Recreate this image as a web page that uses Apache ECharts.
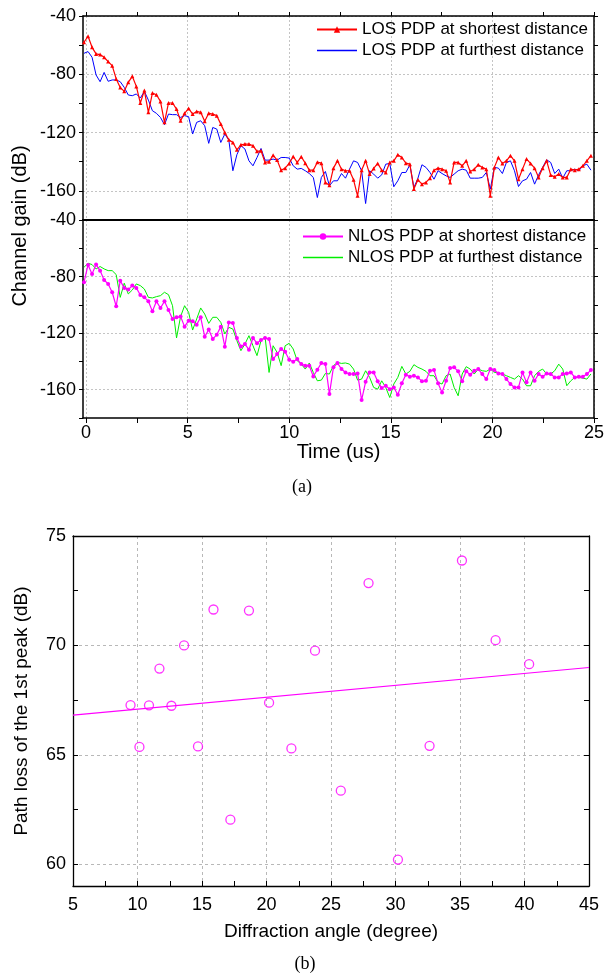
<!DOCTYPE html>
<html><head><meta charset="utf-8">
<script src="https://cdn.jsdelivr.net/npm/echarts@6/dist/echarts.min.js"></script>
<style>html,body{margin:0;padding:0;background:#fff}#c{width:605px;height:977px}</style>
</head><body><div id="c"></div>
<script>
// ---- sampling grid of the PDP (us) ----
const T0 = -0.1, DT = 0.198;

// ---- panel (a) top: LOS ----
const losShort = [
-58.0,-53.9,-61.5,-66.0,-66.5,-68.3,-71.3,-74.1,-83.2,-89.0,
-91.7,-85.5,-81.4,-88.3,-99.7,-91.2,-106.1,-92.9,-94.0,-98.6,
-113.0,-99.7,-99.7,-103.9,-111.9,-106.8,-103.4,-107.3,-105.5,-106.1,
-112.3,-106.8,-107.3,-108.4,-114.2,-119.9,-124.9,-126.8,-131.8,-128.4,
-127.9,-127.9,-129.0,-132.9,-132.5,-140.5,-140.0,-135.5,-138.9,-145.8,
-144.4,-141.2,-136.4,-140.5,-136.6,-141.0,-145.8,-145.8,-140.3,-141.0,
-154.2,-156.1,-144.4,-139.4,-145.1,-146.2,-146.2,-152.4,-163.4,-145.8,
-139.4,-148.5,-144.6,-141.2,-145.8,-147.4,-140.5,-139.4,-135.2,-137.1,
-141.0,-141.7,-158.8,-152.4,-155.4,-154.2,-151.3,-145.8,-144.4,-145.1,
-146.2,-154.2,-140.5,-140.5,-142.8,-139.4,-146.7,-145.1,-142.1,-143.9,
-145.1,-163.4,-143.9,-137.1,-141.2,-139.4,-135.9,-139.4,-152.0,-145.1,
-138.2,-141.2,-144.4,-150.8,-144.4,-139.4,-149.2,-150.4,-148.5,-150.8,
-150.8,-145.1,-145.8,-145.1,-142.8,-139.4,-135.9];
const losFar = [
-65.6,-64.4,-68.3,-80.5,-85.1,-78.7,-84.8,-83.9,-83.9,-85.1,
-89.0,-94.2,-94.7,-93.5,-96.3,-91.7,-97.7,-105.0,-106.8,-109.6,
-114.6,-107.3,-107.7,-107.7,-109.6,-108.4,-109.1,-121.0,-113.0,-111.9,
-115.3,-127.4,-116.5,-117.6,-126.8,-121.0,-125.2,-146.2,-135.2,-129.0,
-131.3,-139.4,-142.8,-137.1,-130.9,-138.9,-138.9,-138.2,-138.9,-137.1,
-137.1,-137.5,-142.8,-145.1,-144.6,-146.2,-148.1,-150.8,-164.6,-150.8,
-146.7,-156.5,-153.1,-153.1,-148.1,-151.3,-145.1,-139.4,-140.5,-146.2,
-168.7,-146.2,-148.5,-151.3,-149.0,-141.7,-141.2,-157.2,-153.1,-147.4,
-147.4,-142.1,-157.7,-151.3,-142.1,-143.9,-147.4,-152.0,-146.2,-148.1,
-149.7,-150.8,-148.5,-146.2,-145.1,-145.8,-151.3,-151.3,-151.3,-150.8,
-147.4,-158.8,-143.9,-144.4,-148.1,-140.5,-139.4,-146.2,-157.0,-153.1,
-152.0,-147.4,-155.4,-149.0,-143.9,-138.7,-140.5,-148.1,-145.1,-151.3,
-146.2,-146.2,-145.1,-146.2,-142.8,-141.7,-145.8];

// ---- panel (a) bottom: NLOS ----
const nlosShort = [
-84.0,-71.8,-78.1,-71.5,-75.8,-82.4,-85.2,-91.1,-101.0,-82.9,
-88.0,-89.2,-86.4,-88.0,-93.0,-94.7,-97.5,-104.6,-97.5,-102.2,
-97.5,-103.6,-110.0,-108.8,-108.3,-115.4,-111.2,-111.6,-114.0,-108.8,
-122.5,-117.5,-124.2,-121.1,-115.4,-129.6,-112.4,-112.8,-123.4,-129.4,
-127.7,-131.7,-123.4,-127.2,-124.9,-123.4,-124.2,-138.3,-134.8,-131.2,
-133.1,-138.8,-140.2,-138.3,-141.9,-143.0,-143.0,-150.6,-145.9,-141.1,
-141.9,-163.1,-144.2,-141.1,-145.4,-147.8,-148.9,-148.9,-148.5,-167.3,
-154.4,-147.8,-147.8,-154.1,-158.8,-157.2,-159.6,-158.4,-163.6,-155.5,
-149.4,-150.8,-150.1,-151.3,-154.1,-153.7,-146.6,-146.1,-155.5,-161.9,
-153.7,-144.7,-144.2,-147.0,-154.1,-147.0,-149.4,-146.6,-145.4,-148.9,
-152.5,-145.4,-146.1,-148.5,-148.9,-152.5,-156.0,-158.4,-158.4,-147.8,
-154.8,-147.8,-153.7,-148.9,-150.8,-148.5,-148.9,-151.3,-151.3,-148.9,
-148.5,-147.8,-151.3,-150.8,-150.8,-148.9,-146.1];
const nlosFar = [
-73.4,-70.6,-71.5,-74.6,-72.9,-74.6,-75.8,-75.8,-78.6,-94.7,
-84.7,-92.3,-89.5,-85.2,-86.4,-88.8,-94.7,-95.1,-94.2,-93.5,
-91.1,-92.8,-100.6,-123.4,-108.3,-100.6,-105.3,-117.8,-110.0,-102.2,
-106.5,-113.1,-108.8,-108.8,-112.4,-120.6,-115.9,-117.1,-125.3,-132.4,
-127.7,-121.8,-128.9,-135.9,-125.3,-122.5,-147.8,-128.9,-133.6,-143.0,
-128.9,-127.2,-131.2,-139.5,-141.9,-145.4,-141.1,-147.8,-153.7,-153.2,
-148.5,-148.9,-143.0,-140.7,-141.4,-141.1,-141.9,-145.4,-153.2,-152.5,
-146.6,-151.3,-158.4,-159.6,-153.7,-158.4,-165.5,-156.0,-151.3,-143.5,
-148.9,-147.0,-142.3,-144.2,-145.4,-147.0,-150.1,-150.1,-154.8,-156.0,
-150.1,-148.9,-158.4,-164.3,-148.9,-143.7,-145.4,-148.9,-145.4,-146.6,
-147.0,-145.4,-147.8,-147.8,-148.9,-150.1,-151.3,-152.5,-150.1,-152.5,
-157.2,-157.2,-150.1,-147.0,-145.4,-148.9,-148.9,-146.6,-141.9,-145.4,
-157.2,-153.7,-151.3,-151.3,-151.8,-152.5,-148.9];

// ---- panel (b): scatter ----
const angle = [9.46,10.15,10.89,11.70,12.63,13.61,14.69,15.89,17.20,18.64,20.20,21.93,23.76,25.76,27.91,30.19,32.64,35.15,37.76,40.36];
const pathLoss = [67.27,65.36,67.26,68.94,67.24,70.00,65.38,71.64,62.03,71.59,67.38,65.29,69.76,63.36,72.85,60.21,65.41,73.88,70.24,69.14];

// ---- ticks / labels ----
const xTicksA = [0,2.5,5,7.5,10,12.5,15,17.5,20,22.5,25];
const xLabelsA = [0,5,10,15,20,25];
const yTicksB = [60,62.5,65,67.5,70,72.5,75];
const yLabelsB = [60,65,70,75];

const FONT = 'Liberation Sans';
const toXY = arr => arr.map((v, i) => [+(T0 + i * DT).toFixed(3), v]);

// least-squares fit for panel (b)
const n = angle.length;
const mx = angle.reduce((a, b) => a + b, 0) / n;
const my = pathLoss.reduce((a, b) => a + b, 0) / n;
let sxy = 0, sxx = 0;
for (let i = 0; i < n; i++) { sxy += (angle[i] - mx) * (pathLoss[i] - my); sxx += (angle[i] - mx) ** 2; }
const slope = sxy / sxx, icpt = my - slope * mx;
const fitLine = [[5, icpt + slope * 5], [45, icpt + slope * 45]];

const AX = {color: '#000', width: 1.5};
const gridA = {color: ['#c4c4c4', 'rgba(0,0,0,0)'], type: [2, 2], width: 1};
const gridAy = {color: ['rgba(0,0,0,0)', '#c4c4c4'], type: [2, 2], width: 1};
const gridB = {color: ['#b8b8b8', 'rgba(0,0,0,0)'], type: [3, 3], width: 1};
const LINE_ICON = 'path://M0,0h40v1.3h-40z';

function xA(grid, pos, opts) {
  return Object.assign({
    gridIndex: grid, type: 'value', position: pos, min: -0.15, max: 25,
    axisLine: {show: true, lineStyle: AX, onZero: false},
    axisTick: {show: false, customValues: xTicksA},
    axisLabel: {show: false, customValues: xLabelsA},
    splitLine: {show: false}
  }, opts || {});
}
function yA(grid, pos, opts) {
  return Object.assign({
    gridIndex: grid, type: 'value', position: pos, min: -180, max: -40, interval: 20,
    axisLine: {show: true, lineStyle: AX, onZero: false},
    axisTick: {show: true, inside: false, length: 4, lineStyle: {color: '#000', width: 1}},
    axisLabel: {show: false},
    splitLine: {show: false}
  }, opts || {});
}
const yLabA = {show: true, formatter: v => (v % 40 === 0 ? String(v) : ''), fontSize: 18, color: '#000', fontFamily: FONT, margin: 7};

const option = {
  animation: false,
  backgroundColor: '#fff',
  textStyle: {fontFamily: FONT},
  grid: [
    {left: 83, right: 11, top: 16, height: 204, outerBoundsMode: 'none'},
    {left: 83, right: 11, top: 220, height: 198, outerBoundsMode: 'none'},
    {left: 73, right: 16, top: 536, height: 350, outerBoundsMode: 'none'}
  ],
  xAxis: [
    xA(0, 'bottom', {splitLine: {show: true, lineStyle: gridA}}),
    xA(0, 'top', {axisTick: {show: true, inside: false, length: 4, customValues: xTicksA, lineStyle: {color: '#000'}}}),
    xA(1, 'bottom', {
      axisTick: {show: true, inside: false, length: 5, customValues: xTicksA, lineStyle: {color: '#000'}},
      axisLabel: {show: true, customValues: xLabelsA, fontSize: 18, color: '#000', fontFamily: FONT, margin: 6},
      splitLine: {show: true, lineStyle: gridA},
      name: 'Time (us)', nameLocation: 'middle', nameGap: 18,
      nameTextStyle: {fontSize: 20, color: '#000', fontFamily: FONT}
    }),
    xA(1, 'top', {axisLine: {show: true, lineStyle: {color: '#000', width: 2}, onZero: false}}),
    {
      gridIndex: 2, type: 'value', position: 'bottom', min: 5, max: 45, interval: 2.5,
      axisLine: {show: true, lineStyle: {color: '#000', width: 1.3}, onZero: false},
      axisTick: {show: true, inside: true, length: 5, lineStyle: {color: '#000'}},
      axisLabel: {formatter: v => (v % 5 === 0 ? String(v) : ''), fontSize: 18, color: '#000', fontFamily: FONT, margin: 10},
      splitLine: {show: true, lineStyle: gridB},
      name: 'Diffraction angle (degree)', nameLocation: 'middle', nameGap: 36,
      nameTextStyle: {fontSize: 19, color: '#000', fontFamily: FONT}
    },
    {
      gridIndex: 2, type: 'value', position: 'top', min: 5, max: 45, interval: 2.5,
      axisLine: {show: true, lineStyle: {color: '#000', width: 1.3}, onZero: false},
      axisTick: {show: false}, axisLabel: {show: false}, splitLine: {show: false}
    }
  ],
  yAxis: [
    yA(0, 'left', {axisLabel: yLabA, splitLine: {show: true, lineStyle: gridAy}}),
    yA(0, 'right'),
    yA(1, 'left', {axisLabel: yLabA, splitLine: {show: true, lineStyle: gridAy}}),
    yA(1, 'right'),
    {
      gridIndex: 2, type: 'value', position: 'left', min: 59, max: 75,
      axisLine: {show: true, lineStyle: {color: '#000', width: 1.3}, onZero: false},
      axisTick: {show: true, inside: true, length: 5, customValues: yTicksB, lineStyle: {color: '#000'}},
      axisLabel: {customValues: yLabelsB, fontSize: 18, color: '#000', fontFamily: FONT, margin: 7},
      splitLine: {show: true, lineStyle: gridB},
      name: 'Path loss of the 1st peak (dB)', nameLocation: 'middle', nameGap: 42,
      nameTextStyle: {fontSize: 19, color: '#000', fontFamily: FONT}
    },
    {
      gridIndex: 2, type: 'value', position: 'right', min: 59, max: 75,
      axisLine: {show: true, lineStyle: {color: '#000', width: 1.3}, onZero: false},
      axisTick: {show: true, inside: true, length: 5, customValues: yTicksB, lineStyle: {color: '#000'}},
      axisLabel: {show: false}, splitLine: {show: false}
    }
  ],
  legend: [
    {
      data: [
        {name: 'LOS PDP at shortest distance'},
        {name: 'LOS PDP at furthest distance', icon: LINE_ICON, itemStyle: {color: '#0000ff'}}
      ],
      orient: 'vertical', left: 311, top: 15, itemWidth: 40, itemHeight: 8, itemGap: 2,
      textStyle: {fontSize: 17, color: '#000', fontFamily: FONT, lineHeight: 19},
      selectedMode: false
    },
    {
      data: [
        {name: 'NLOS PDP at shortest distance'},
        {name: 'NLOS PDP at furthest distance', icon: LINE_ICON, itemStyle: {color: '#00ee00'}}
      ],
      orient: 'vertical', left: 297, top: 222, itemWidth: 40, itemHeight: 8, itemGap: 2,
      textStyle: {fontSize: 17, color: '#000', fontFamily: FONT, lineHeight: 19},
      selectedMode: false
    }
  ],
  series: [
    {name: 'LOS PDP at furthest distance', type: 'line', xAxisIndex: 0, yAxisIndex: 0, data: toXY(losFar),
     symbol: 'none', lineStyle: {color: '#0000ff', width: 1}, itemStyle: {color: '#0000ff'}, silent: true},
    {name: 'LOS PDP at shortest distance', type: 'line', xAxisIndex: 0, yAxisIndex: 0, data: toXY(losShort),
     symbol: 'triangle', symbolSize: 4, lineStyle: {color: '#ff0000', width: 1.2}, itemStyle: {color: '#ff0000'}, silent: true},
    {name: 'NLOS PDP at furthest distance', type: 'line', xAxisIndex: 2, yAxisIndex: 2, data: toXY(nlosFar),
     symbol: 'none', lineStyle: {color: '#00ee00', width: 1}, itemStyle: {color: '#00ee00'}, silent: true},
    {name: 'NLOS PDP at shortest distance', type: 'line', xAxisIndex: 2, yAxisIndex: 2, data: toXY(nlosShort),
     symbol: 'circle', symbolSize: 4, lineStyle: {color: '#ff00ff', width: 1.2}, itemStyle: {color: '#ff00ff'}, silent: true},
    {type: 'line', xAxisIndex: 4, yAxisIndex: 4, data: fitLine, symbol: 'none',
     lineStyle: {color: '#ff00ff', width: 1.2}, silent: true},
    {type: 'scatter', xAxisIndex: 4, yAxisIndex: 4, data: angle.map((a, i) => [a, pathLoss[i]]),
     symbol: 'circle', symbolSize: 9,
     itemStyle: {color: 'rgba(0,0,0,0)', borderColor: '#ff00ff', borderWidth: 1.3}, silent: true}
  ],
  graphic: [
    {type: 'text', x: 20, y: 226, rotation: Math.PI / 2,
     style: {text: 'Channel gain (dB)', font: '20px "Liberation Sans"', fill: '#000', align: 'center', verticalAlign: 'middle'}},
    {type: 'text', x: 302, y: 487,
     style: {text: '(a)', font: '18px "Liberation Serif"', fill: '#000', align: 'center', verticalAlign: 'middle'}},
    {type: 'text', x: 305, y: 964,
     style: {text: '(b)', font: '18px "Liberation Serif"', fill: '#000', align: 'center', verticalAlign: 'middle'}}
  ]
};
const chart = echarts.init(document.getElementById('c'), null, {renderer: 'canvas'});
chart.setOption(option);
</script></body></html>
